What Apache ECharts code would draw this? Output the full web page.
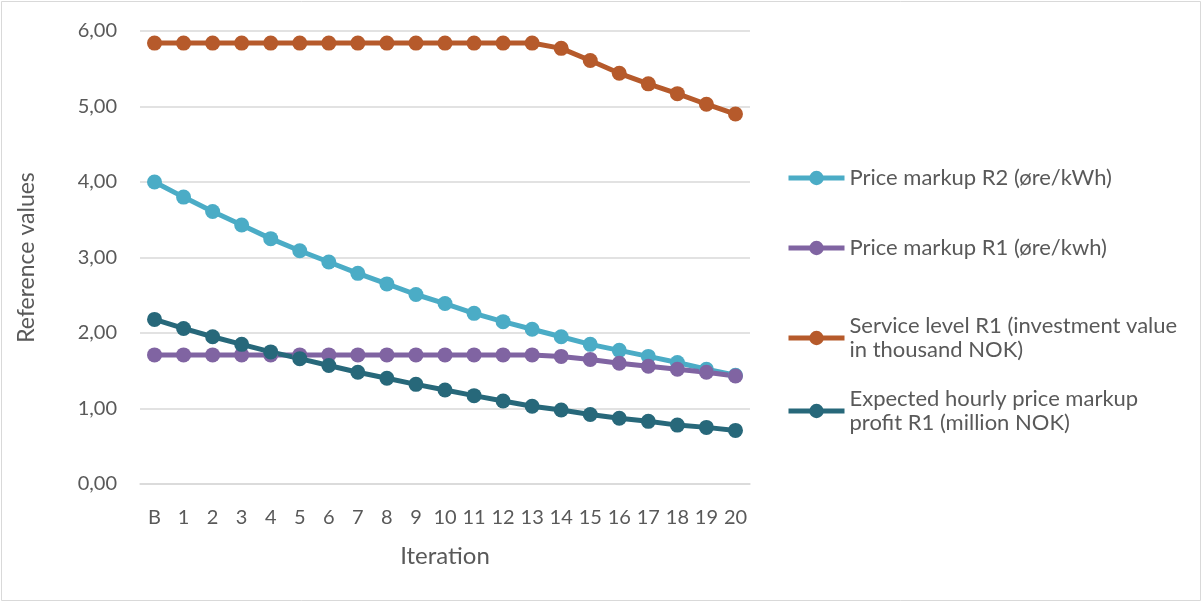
<!DOCTYPE html>
<html>
<head>
<meta charset="utf-8">
<script src="https://cdn.jsdelivr.net/npm/echarts@6/dist/echarts.min.js"></script>
<style>
  html, body { margin: 0; padding: 0; background: #ffffff; }
  #chart { width: 1204px; height: 604px; }
</style>
</head>
<body>
<div id="chart"></div>
<script>
// Iterations (B = base case)
const iterations = ['B', '1', '2', '3', '4', '5', '6', '7', '8', '9', '10',
  '11', '12', '13', '14', '15', '16', '17', '18', '19', '20'];

// Series values
const priceMarkupR2 = [4.00, 3.80, 3.61, 3.43, 3.25, 3.09, 2.94, 2.79, 2.65, 2.51, 2.39,
  2.26, 2.15, 2.05, 1.95, 1.85, 1.77, 1.69, 1.61, 1.52, 1.44];
const priceMarkupR1 = [1.71, 1.71, 1.71, 1.71, 1.71, 1.71, 1.71, 1.71, 1.71, 1.71, 1.71,
  1.71, 1.71, 1.71, 1.69, 1.65, 1.60, 1.56, 1.52, 1.48, 1.43];
const serviceLevelR1 = [5.84, 5.84, 5.84, 5.84, 5.84, 5.84, 5.84, 5.84, 5.84, 5.84, 5.84,
  5.84, 5.84, 5.84, 5.77, 5.61, 5.44, 5.30, 5.17, 5.03, 4.90];
const expectedProfitR1 = [2.18, 2.06, 1.95, 1.85, 1.75, 1.66, 1.57, 1.48, 1.40, 1.32, 1.245,
  1.17, 1.10, 1.03, 0.98, 0.92, 0.87, 0.83, 0.78, 0.75, 0.71];

// Y axis ticks
const yMin = 0, yMax = 6, yStep = 1;

const seriesDefs = [
  { name: 'Price markup R2 (øre/kWh)', data: priceMarkupR2, color: '#4BACC6', legendTop: 166, lines: 1 },
  { name: 'Price markup R1 (øre/kwh)', data: priceMarkupR1, color: '#8064A2', legendTop: 236, lines: 1 },
  { name: 'Service level R1 (investment value\nin thousand NOK)', data: serviceLevelR1, color: '#B65A2B', legendTop: 302, lines: 2 },
  { name: 'Expected hourly price markup\nprofit R1 (million NOK)', data: expectedProfitR1, color: '#27687A', legendTop: 375, lines: 2 }
];

const FONT = 'Lato, "Open Sans", sans-serif';
const TEXT = '#595959';
const GRID = '#D9D9D9';
const LH = 24;

const chart = echarts.init(document.getElementById('chart'), null, { renderer: 'canvas' });

const legends = seriesDefs.map(s => ({
  orient: 'vertical',
  left: 786,
  top: s.legendTop,
  padding: 0,
  itemWidth: 56,
  itemHeight: 18,
  data: [s.name],
  lineStyle: { width: 5 },
  textStyle: {
    fontFamily: FONT,
    fontSize: 22,
    color: TEXT,
    lineHeight: LH,
    padding: s.lines === 2 ? [LH, 0, 0, 0] : 0
  }
}));

chart.setOption({
  animation: false,
  backgroundColor: '#ffffff',
  textStyle: { fontFamily: FONT },
  graphic: [{
    type: 'rect',
    shape: { x: 1.5, y: 1.5, width: 1199, height: 599 },
    style: { fill: 'none', stroke: '#D9D9D9', lineWidth: 1 },
    silent: true
  }],
  legend: legends,
  grid: { left: 140, right: 454, top: 31, bottom: 120, containLabel: false },
  xAxis: {
    type: 'category',
    data: iterations,
    boundaryGap: true,
    name: 'Iteration',
    nameLocation: 'middle',
    nameGap: 60,
    nameTextStyle: { fontFamily: FONT, fontSize: 24, color: TEXT },
    axisLine: { show: true, lineStyle: { color: GRID, width: 1.5 } },
    axisTick: { show: false },
    axisLabel: { fontFamily: FONT, fontSize: 20, color: TEXT, margin: 24, interval: 0 },
    splitLine: { show: false }
  },
  yAxis: {
    type: 'value',
    min: yMin,
    max: yMax,
    interval: yStep,
    name: 'Reference values',
    nameLocation: 'middle',
    nameGap: 102,
    nameTextStyle: { fontFamily: FONT, fontSize: 23, color: TEXT },
    axisLine: { show: false },
    axisTick: { show: false },
    axisLabel: {
      fontFamily: FONT, fontSize: 20, color: TEXT, margin: 23,
      formatter: v => v.toFixed(2).replace('.', ',')
    },
    splitLine: { show: true, lineStyle: { color: GRID, width: 1.5 } }
  },
  series: seriesDefs.map(s => ({
    name: s.name,
    type: 'line',
    data: s.data,
    color: s.color,
    symbol: 'circle',
    symbolSize: 15,
    showSymbol: true,
    lineStyle: { width: 5, color: s.color },
    itemStyle: { color: s.color },
    emphasis: { disabled: true }
  }))
});
</script>
</body>
</html>
